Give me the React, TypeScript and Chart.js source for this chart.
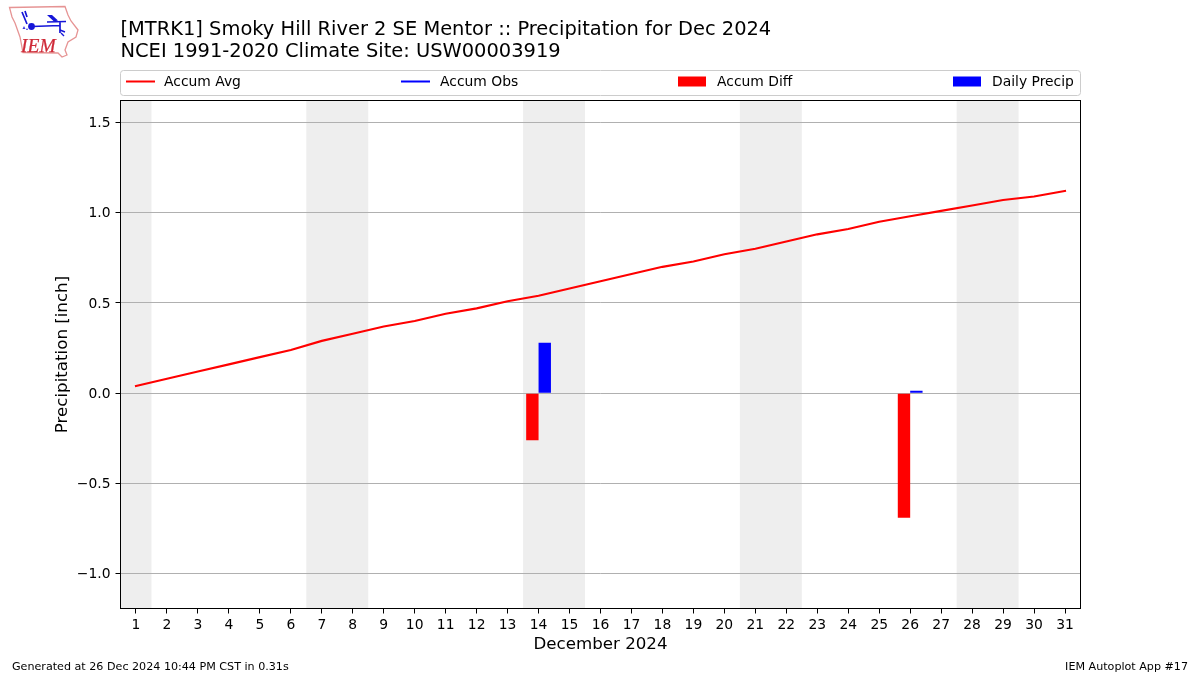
import React, { useEffect, useRef } from "react";
import { Chart, registerables } from "chart.js";

Chart.register(...registerables);

const days = Array.from({ length: 31 }, (_, i) => String(i + 1));
const accumAvg = [0.04, 0.08, 0.12, 0.16, 0.2, 0.24, 0.29, 0.33, 0.37, 0.4, 0.44, 0.47, 0.51, 0.54, 0.58, 0.62, 0.66, 0.7, 0.73, 0.77, 0.8, 0.84, 0.88, 0.91, 0.95, 0.98, 1.01, 1.04, 1.07, 1.09, 1.12];
const accumObs: (number | null)[] = [];
const accumDiff: [string, number][] = [["14", -0.26], ["26", -0.69]];
const dailyPrecip: [string, number][] = [["14", 0.28], ["26", 0.01]];
const weekends: [number, number][] = [[1, 1], [7, 8], [14, 15], [21, 22], [28, 29]];
const titleLines = ["[MTRK1] Smoky Hill River 2 SE Mentor :: Precipitation for Dec 2024", "NCEI 1991-2020 Climate Site: USW00003919"];
const xTitle = "December 2024";
const yTitle = "Precipitation [inch]";
const footerLeft = "Generated at 26 Dec 2024 10:44 PM CST in 0.31s";
const footerRight = "IEM Autoplot App #17";

const FONT = "'DejaVu Sans', sans-serif";

function toSeries(pairs: [string, number][]) {
  const map = new Map(pairs);
  return days.map((d) => (map.has(d) ? (map.get(d) as number) : null));
}

const decor = {
  id: "decor",
  beforeDraw(chart: any) {
    const { ctx, chartArea: a, scales } = chart;
    ctx.save();
    ctx.fillStyle = "#ffffff";
    ctx.fillRect(0, 0, chart.width, chart.height);
    ctx.fillStyle = "#eeeeee";
    const band = scales.x.getPixelForValue(1) - scales.x.getPixelForValue(0);
    for (const [s, e] of weekends) {
      const x0 = scales.x.getPixelForValue(s - 1) - band / 2;
      const x1 = scales.x.getPixelForValue(e - 1) + band / 2;
      ctx.fillRect(x0, a.top, x1 - x0, a.bottom - a.top);
    }
    ctx.restore();
  },
  afterDatasetsDraw(chart: any) {
    const { ctx } = chart;
    ctx.save();
    ctx.strokeStyle = "#000000";
    ctx.lineWidth = 1;
    ctx.strokeRect(120.5, 100.5, 960, 508);
    ctx.restore();
  },
  afterDraw(chart: any) {
    const { ctx } = chart;
    ctx.save();
    ctx.strokeStyle = "#cccccc";
    ctx.lineWidth = 1;
    ctx.fillStyle = "#ffffff";
    ctx.beginPath();
    ctx.roundRect(120.5, 70.5, 960, 25, 3);
    ctx.fill();
    ctx.stroke();
    const slots = [126, 401, 678, 953];
    ctx.font = `13.89px ${FONT}`;
    ctx.textBaseline = "middle";
    chart.data.datasets.forEach((ds: any, i: number) => {
      const x = slots[i];
      if (ds.type === "line") {
        ctx.strokeStyle = ds.borderColor;
        ctx.lineWidth = 2;
        ctx.beginPath();
        ctx.moveTo(x, 81.5);
        ctx.lineTo(x + 29, 81.5);
        ctx.stroke();
      } else {
        ctx.fillStyle = ds.backgroundColor;
        ctx.fillRect(x, 76.5, 28, 10);
      }
      ctx.fillStyle = "#000000";
      ctx.fillText(ds.label, x + (i === 0 ? 38 : 39), 82.5);
    });
    ctx.font = `11.13px ${FONT}`;
    ctx.fillStyle = "#000000";
    ctx.textAlign = "left";
    ctx.fillText(footerLeft, 12, 667);
    ctx.textAlign = "right";
    ctx.fillText(footerRight, 1188, 667);
    ctx.restore();
  },
};

function Logo() {
  return (
    <svg width="80" height="60" viewBox="0 0 80 60" style={{ position: "absolute", left: 0, top: 0 }}>
      <path d="M9.5 7.5 L65 6.5 L68 15 L71 21 L78 30 L76 37 L68 42 L65 50 L67 55 L62 57 L58 53 L23 52.5 L20 37 L15 23 L12 17 Z" fill="#ffffff" stroke="#e69494" strokeWidth="1.3" />
      <path d="M22 12 L27 24 M25 11 L27 17 M32 26.5 L60 25.5 M47 22 L66 21.5 M60 22 L60 33" fill="none" stroke="#1616d8" strokeWidth="1.7" />
      <path d="M47 15 L52 15 L58 20.5 L54 21.5 Z" fill="#1616d8" />
      <path d="M60 30 L65 32 M61 33 L64 36" fill="none" stroke="#1616d8" strokeWidth="1.4" />
      <circle cx="31.5" cy="26.5" r="3.4" fill="#1616d8" />
      <path d="M24 26 L25.5 29 L22.5 29 Z M27 28 L28 30 L26 30 Z" fill="#3a3ae0" />
      <text x="21" y="52" fill="#cf2a38" stroke="#cf2a38" strokeWidth="0.25" fontFamily="'Liberation Serif', serif" fontStyle="italic" fontSize="19.5">IEM</text>
    </svg>
  );
}

export default function App() {
  const ref = useRef<HTMLCanvasElement>(null);
  useEffect(() => {
    const chart = new Chart(ref.current as HTMLCanvasElement, {
      type: "bar",
      plugins: [decor],
      data: {
        labels: days,
        datasets: [
          { type: "line", label: "Accum Avg", data: accumAvg, borderColor: "#ff0000", backgroundColor: "#ff0000", borderWidth: 2.1, borderCapStyle: "square", pointRadius: 0, tension: 0 },
          { type: "line", label: "Accum Obs", data: accumObs, borderColor: "#0000ff", backgroundColor: "#0000ff", borderWidth: 2.1, pointRadius: 0 },
          { type: "bar", label: "Accum Diff", data: toSeries(accumDiff), backgroundColor: "#ff0000", categoryPercentage: 0.8, barPercentage: 1 },
          { type: "bar", label: "Daily Precip", data: toSeries(dailyPrecip), backgroundColor: "#0000ff", categoryPercentage: 0.8, barPercentage: 1, minBarLength: 2.5 },
        ],
      } as any,
      options: {
        responsive: false,
        animation: false,
        devicePixelRatio: 1,
        layout: { padding: { left: 0, right: 119.5, top: 0, bottom: 0 } },
        plugins: {
          legend: { display: false },
          tooltip: { enabled: false },
          title: {
            display: true,
            text: titleLines,
            align: "start",
            fullSize: false,
            color: "#000000",
            font: { family: FONT, size: 19.44, weight: "normal", lineHeight: 1.13 },
            padding: { top: 19, bottom: 37.6 },
          },
        },
        scales: {
          x: {
            type: "category",
            offset: true,
            afterFit: (s: any) => { s.height = 66.5; },
            border: { display: false },
            grid: { offset: false, drawOnChartArea: false, drawTicks: true, tickLength: 5, tickColor: "#000000", tickWidth: 1 },
            ticks: { color: "#000000", font: { family: FONT, size: 13.89 }, padding: 4, maxRotation: 0, autoSkip: false },
            title: { display: true, text: xTitle, color: "#000000", font: { family: FONT, size: 16.67, lineHeight: 1.2 }, padding: { top: 0, bottom: 20 } },
          },
          y: {
            type: "linear",
            min: -1.192,
            max: 1.621,
            afterFit: (s: any) => { s.width = 120.5; },
            border: { display: false },
            grid: { color: "#b0b0b0", lineWidth: 1, drawTicks: true, tickLength: 5, tickColor: "#000000" },
            ticks: {
              stepSize: 0.5,
              includeBounds: false,
              labelOffset: 1,
              color: "#000000",
              font: { family: FONT, size: 13.89 },
              padding: 5,
              callback: (v: any) => (Number(v) < 0 ? "\u2212" : "") + Math.abs(Number(v)).toFixed(1),
            },
            title: { display: true, text: yTitle, color: "#000000", font: { family: FONT, size: 16.67, lineHeight: 1.2 }, padding: { top: 53, bottom: 0 } },
          },
        },
      } as any,
    });
    return () => chart.destroy();
  }, []);
  return (
    <div style={{ position: "absolute", left: 0, top: 0, width: 1200, height: 675, background: "#fff" }}>
      <canvas ref={ref} width={1200} height={675} style={{ display: "block", width: 1200, height: 675 }} />
      <Logo />
    </div>
  );
}
